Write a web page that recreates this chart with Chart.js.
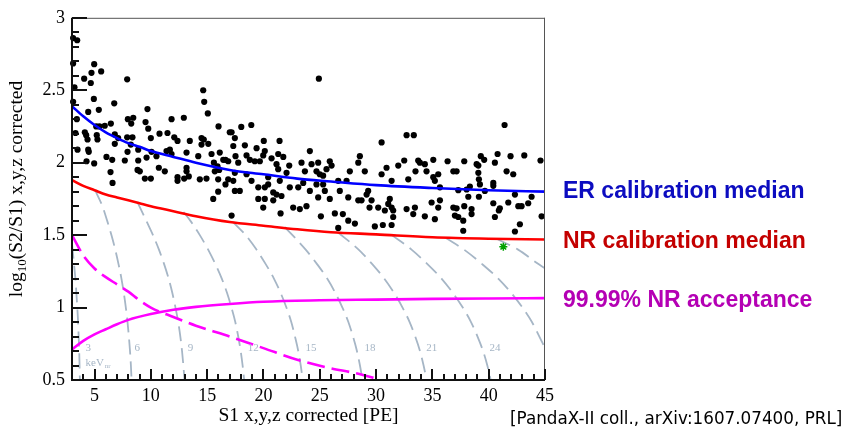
<!DOCTYPE html>
<html>
<head>
  <title>PandaX-II calibration band</title>
  <script src="https://cdn.jsdelivr.net/npm/chart.js"></script>
  <style>
    body { margin: 0; background: #fff; }
  </style>
</head>
<body>
  <canvas id="bandChart" width="845" height="429"></canvas>

  <script>
    // tick labels
    const xTicks = [5, 10, 15, 20, 25, 30, 35, 40, 45];
    const yTicks = [0.5, 1, 1.5, 2, 2.5, 3];

    // calibration events (S1 [PE], log10(S2/S1))
    const calS1 = [
      3.1, 3.46, 3.1, 4.97, 4.73, 5.59, 4.08, 4.67, 7.9, 3.22, 14.65, 3.1, 4.94, 6.75, 14.74, 9.7, 5.38, 15.06, 4.44, 7.96,
      8.44, 9.53, 8.26, 11.84, 12.93, 3.43, 6.45, 5.15, 5.44, 5.91, 16.01, 9.77, 3.31, 4.14, 4.26, 5.2, 6.8, 10.77, 11.48, 17.01,
      10.0, 12.08, 7.9, 8.37, 7.1, 14.5, 4.38, 5.26, 13.46, 12.37, 14.7,
      24.92, 18.03, 18.92, 17.17, 17.46, 20.03, 21.43, 30.49, 32.71, 33.35, 41.41,
      3.49, 4.44, 4.49, 4.29, 4.97, 6.06, 6.57, 6.8, 7.69, 7.93, 8.22, 8.88, 8.88, 9.62, 10.06, 8.82, 9.02, 6.42, 6.6, 9.47,
      10.5, 10.71, 11.24, 11.39, 11.69, 11.84, 12.37, 12.37, 12.96, 13.17, 13.17, 13.37, 13.17, 14.21, 14.35, 14.5, 14.94, 15.1, 15.39, 15.6,
      15.92, 15.68, 16.12, 16.43, 16.63, 16.87, 16.07, 15.98, 16.87, 16.63, 15.98, 15.54, 10.0,
      17.32, 18.35, 20.12, 19.39, 17.52, 17.76, 18.5, 18.79, 19.23, 19.68, 19.98, 20.72, 21.31, 21.76, 22.29, 21.16, 21.31, 22.05, 23.38, 23.68,
      24.12, 24.27, 24.71, 25.0, 25.3, 24.86, 25.89, 26.05, 25.6, 25.3, 25.45, 24.71, 24.86, 25.89, 26.64, 26.78, 27.38, 27.67, 27.53, 28.42,
      28.56, 29.0, 29.3, 28.42, 28.71, 29.6, 29.16, 30.19, 30.78, 31.22, 31.08, 30.49, 30.93, 18.5, 18.94, 19.54, 20.12, 20.42, 20.87, 21.16,
      21.6, 22.34, 20.12, 19.54, 19.98, 20.87, 22.64, 23.23, 23.82, 21.52, 25.1, 26.34, 27.53, 28.12, 26.64, 29.89, 17.46, 17.9, 17.17, 17.46,
      17.32, 21.45, 20.42, 23.09, 23.53, 24.12,
      31.97, 32.5, 32.86, 33.5, 33.74, 33.89, 34.33, 34.48, 35.08, 35.08, 35.22, 35.52, 35.67, 36.35, 36.86, 37.15, 37.83, 37.3, 38.04, 38.33,
      38.93, 39.08, 39.3, 39.6, 39.08, 39.13, 39.22, 40.79, 40.55, 40.41, 40.41, 39.66, 41.59, 42.18, 41.94, 43.16, 44.6, 42.33, 43.81, 31.38,
      31.38, 31.52, 31.52, 31.38, 32.71, 33.45, 33.3, 34.33, 34.93, 35.52, 35.67, 35.22, 36.86, 37.15, 37.0, 37.3, 37.83, 37.74, 37.74, 38.48,
      38.48, 38.19, 39.13, 40.41, 40.99, 40.9, 40.55, 41.74, 42.63, 42.92, 43.51, 44.7, 42.77, 42.33,
      27.05, 30.6, 29.42
    ];
    const calLog = [
      2.86, 2.845, 2.685, 2.68, 2.62, 2.63, 2.58, 2.55, 2.575, 2.52, 2.5, 2.42, 2.44, 2.41, 2.42, 2.37, 2.365, 2.34, 2.35, 2.3,
      2.31, 2.28, 2.27, 2.3, 2.31, 2.3, 2.27, 2.25, 2.25, 2.255, 2.25, 2.235, 2.205, 2.21, 2.19, 2.19, 2.195, 2.2, 2.205, 2.21,
      2.17, 2.175, 2.175, 2.175, 2.17, 2.17, 2.16, 2.16, 2.15, 2.15, 2.16,
      2.58, 2.247, 2.26, 2.21, 2.17, 2.15, 2.15, 2.14, 2.19, 2.19, 2.26,
      2.09, 2.09, 2.075, 2.01, 1.995, 2.04, 2.02, 2.13, 2.015, 2.075, 2.125, 2.09, 2.015, 2.035, 2.075, 1.95, 1.94, 1.935, 1.86, 1.89,
      2.045, 1.965, 1.94, 2.08, 2.09, 2.06, 1.9, 1.875, 1.89, 1.94, 1.965, 1.905, 2.07, 2.045, 1.885, 2.125, 1.89, 2.13, 2.06, 2.0,
      1.975, 1.94, 2.07, 2.02, 2.02, 2.01, 1.95, 1.885, 1.885, 1.85, 1.8, 1.75, 1.89,
      2.115, 2.12, 2.08, 2.1, 2.045, 2.0, 2.05, 2.02, 2.01, 2.01, 2.05, 2.03, 2.06, 2.04, 1.98, 1.99, 1.955, 1.93, 2.0, 1.94,
      2.08, 1.99, 1.94, 1.92, 1.91, 2.0, 2.01, 1.98, 1.955, 1.85, 1.805, 1.85, 1.76, 1.75, 1.875, 1.805, 1.875, 1.94, 1.76, 2.0,
      2.045, 1.94, 1.805, 1.74, 1.74, 1.74, 1.78, 1.69, 1.67, 1.75, 1.715, 1.92, 1.965, 1.92, 1.875, 1.83, 1.83, 1.85, 1.795, 1.78,
      1.77, 1.83, 1.75, 1.75, 1.69, 1.74, 1.69, 1.68, 1.7, 1.65, 1.63, 1.65, 1.6, 1.58, 1.55, 1.56, 1.805, 1.805, 1.635, 1.93,
      1.875, 1.875, 1.9, 1.83, 1.86, 1.805,
      1.98, 2.015, 1.885, 1.94, 2.015, 2.0, 1.99, 1.94, 2.02, 1.9, 1.875, 1.92, 1.83, 2.01, 1.94, 1.94, 2.01, 1.81, 1.815, 1.835,
      1.99, 1.98, 2.045, 2.02, 1.93, 1.885, 1.85, 2.06, 2.0, 1.86, 1.84, 1.805, 1.94, 1.92, 2.045, 2.05, 2.015, 1.78, 1.765, 1.875,
      1.69, 1.67, 1.625, 1.57, 1.68, 1.69, 1.645, 1.63, 1.725, 1.69, 1.74, 1.61, 1.69, 1.685, 1.635, 1.625, 1.7, 1.6, 1.53, 1.68,
      1.645, 1.765, 1.765, 1.72, 1.685, 1.67, 1.625, 1.725, 1.7, 1.7, 1.72, 1.63, 1.575, 1.525,
      1.645, 1.57, 1.69
    ];

    // ER / NR calibration medians
    const medS1 = [3, 4, 5, 6, 7, 8, 9, 10, 12, 14, 17, 20, 23, 26, 30, 35, 40, 45];
    const erMedian = [2.39, 2.32, 2.26, 2.21, 2.17, 2.135, 2.11, 2.08, 2.04, 2.0, 1.95, 1.92, 1.89, 1.87, 1.845, 1.825, 1.81, 1.80];
    const nrMedian = [1.88, 1.84, 1.81, 1.78, 1.76, 1.74, 1.72, 1.70, 1.665, 1.63, 1.59, 1.565, 1.54, 1.52, 1.505, 1.485, 1.475, 1.47];

    // 99.99% NR acceptance line
    const accS1 = [3, 4, 5, 6, 7, 8, 10, 12, 14, 17, 20, 25, 30, 35, 40, 45];
    const accLog = [0.71, 0.77, 0.815, 0.85, 0.885, 0.915, 0.955, 0.985, 1.005, 1.025, 1.04, 1.05, 1.055, 1.06, 1.063, 1.065];

    // S2 threshold cut (dashed magenta)
    const cutS1 = [3, 4, 5, 6, 7, 8, 9, 10, 12, 14, 17, 20, 23, 26, 28, 30];
    const cutLog = [1.5, 1.36, 1.27, 1.21, 1.16, 1.11, 1.05, 1.0, 0.935, 0.875, 0.8, 0.72, 0.64, 0.58, 0.55, 0.51];

    // equal-energy contours [keVnr, S1 values, log10(S2/S1) values]
    const kevContours = [
      [3, [3.0, 3.18, 3.30, 3.39, 3.47, 3.54, 3.59, 3.64, 3.67, 3.70], [1.44, 1.3, 1.2, 1.1, 1.0, 0.9, 0.8, 0.7, 0.6, 0.5]],
      [6, [5.05, 5.70, 6.12, 6.50, 6.84, 7.13, 7.39, 7.60, 7.78, 7.93, 8.05, 8.15, 8.23, 8.29], [1.81, 1.7, 1.6, 1.5, 1.4, 1.3, 1.2, 1.1, 1.0, 0.9, 0.8, 0.7, 0.6, 0.5]],
      [9, [8.8, 9.59, 10.19, 10.72, 11.18, 11.58, 11.91, 12.19, 12.43, 12.62, 12.77, 12.89, 12.99], [1.73, 1.6, 1.5, 1.4, 1.3, 1.2, 1.1, 1.0, 0.9, 0.8, 0.7, 0.6, 0.5]],
      [12, [12.9, 13.5, 14.35, 15.09, 15.73, 16.30, 16.77, 17.16, 17.50, 17.76, 17.98, 18.15, 18.29], [1.66, 1.6, 1.5, 1.4, 1.3, 1.2, 1.1, 1.0, 0.9, 0.8, 0.7, 0.6, 0.5]],
      [15, [17.3, 18.42, 19.38, 20.2, 20.93, 21.53, 22.04, 22.47, 22.8, 23.09, 23.31, 23.49], [1.59, 1.5, 1.4, 1.3, 1.2, 1.1, 1.0, 0.9, 0.8, 0.7, 0.6, 0.5]],
      [18, [21.9, 22.58, 23.75, 24.76, 25.66, 26.39, 27.01, 27.54, 27.95, 28.3, 28.57, 28.79], [1.555, 1.5, 1.4, 1.3, 1.2, 1.1, 1.0, 0.9, 0.8, 0.7, 0.6, 0.5]],
      [21, [26.6, 28.45, 29.66, 30.73, 31.61, 32.35, 32.98, 33.48, 33.9, 34.22, 34.49], [1.52, 1.4, 1.3, 1.2, 1.1, 1.0, 0.9, 0.8, 0.7, 0.6, 0.5]],
      [24, [31.4, 33.15, 34.56, 35.81, 36.83, 37.7, 38.43, 39.01, 39.5, 39.88, 40.18], [1.5, 1.4, 1.3, 1.2, 1.1, 1.0, 0.9, 0.8, 0.7, 0.6, 0.5]],
      [27, [36.2, 37.81, 39.42, 40.85, 42.01, 43.0, 43.84, 44.5, 45.0], [1.48, 1.4, 1.3, 1.2, 1.1, 1.0, 0.9, 0.8, 0.72]],
      [30, [40.7, 42.61, 44.42, 45.0], [1.475, 1.4, 1.3, 1.27]]
    ];
    const kevLabels = ['3', '6', '9', '12', '15', '18', '21', '24'];
    const kevLabelS1 = [4.2, 8.55, 13.28, 18.6, 23.74, 28.98, 34.45, 40.08];
    const kevLabelLog = 0.72;

    // the single green event below the NR median
    const starS1 = [41.3];
    const starLog = [1.42];

    const serif = '"Liberation Serif", "Times New Roman", serif';
    const sans = '"Liberation Sans", Arial, sans-serif';
    const grey = 'rgb(166,182,198)';

    const pts = (xs, ys) => xs.map((v, i) => ({ x: v, y: ys[i] }));

    const datasets = [];
    datasets.push({ data: pts(starS1, starLog), pointStyle: 'star', pointRadius: 4, borderColor: '#00a000', borderWidth: 1.5, order: 0 });
    datasets.push({ type: 'line', data: pts(medS1, erMedian), borderColor: '#0000ff', borderWidth: 2.6, pointRadius: 0, cubicInterpolationMode: 'monotone', order: 1 });
    datasets.push({ type: 'line', data: pts(medS1, nrMedian), borderColor: '#ff0000', borderWidth: 2.6, pointRadius: 0, cubicInterpolationMode: 'monotone', order: 2 });
    datasets.push({ type: 'line', data: pts(accS1, accLog), borderColor: '#ff00ff', borderWidth: 2.6, pointRadius: 0, cubicInterpolationMode: 'monotone', order: 3 });
    datasets.push({ type: 'line', data: pts(cutS1, cutLog), borderColor: '#ff00ff', borderWidth: 2.6, borderDash: [18, 7], pointRadius: 0, cubicInterpolationMode: 'monotone', order: 4 });
    datasets.push({ data: pts(calS1, calLog), backgroundColor: '#000', borderWidth: 0, pointRadius: 3.1, clip: 6, order: 5 });
    kevContours.forEach(c => {
      datasets.push({ type: 'line', data: pts(c[1], c[2]), borderColor: grey, borderWidth: 1.8, borderDash: [15, 7], pointRadius: 0, cubicInterpolationMode: 'monotone', order: 6 });
    });

    // ROOT-like frame, inner ticks, titles and side legend
    const rootFrame = {
      id: 'rootFrame',
      afterDraw(chart) {
        const { ctx, chartArea: a, scales } = chart;
        const xs = scales.x, ys = scales.y;
        ctx.save();

        // top and right frame
        ctx.fillStyle = '#555';
        ctx.fillRect(a.left, a.top, a.right - a.left, 1);
        ctx.fillRect(a.right - 1, a.top, 1, a.bottom - a.top);

        // left and bottom axes with inner ticks
        ctx.fillStyle = '#111';
        ctx.fillRect(a.left - 1, a.top, 2, a.bottom - a.top + 1);
        ctx.fillRect(a.left - 1, a.bottom - 1, a.right - a.left + 1, 2);
        for (let i = 5; i <= 30; i++) {
          const py = Math.round(ys.getPixelForValue(i / 10));
          const len = i % 5 === 0 ? 15 : 7;
          ctx.fillRect(a.left, py - 1, len, 2);
        }
        for (let v = 3; v <= 45; v++) {
          const px = Math.round(xs.getPixelForValue(v));
          const len = v % 5 === 0 ? 11 : 6;
          ctx.fillRect(px - 1, a.bottom - len, 2, len);
        }

        // keVnr labels
        ctx.fillStyle = grey;
        ctx.font = '11px ' + serif;
        ctx.textBaseline = 'middle';
        ctx.textAlign = 'left';
        kevLabels.forEach((t, i) => {
          ctx.fillText(t, xs.getPixelForValue(kevLabelS1[i]), ys.getPixelForValue(kevLabelLog));
        });
        const kx = xs.getPixelForValue(kevLabelS1[0]);
        const ky = ys.getPixelForValue(kevLabelLog) + 15;
        ctx.fillText('keV', kx, ky);
        const kw = ctx.measureText('keV').width;
        ctx.font = '7px ' + serif;
        ctx.fillText('nr', kx + kw + 1, ky + 3);

        // axis titles
        ctx.fillStyle = '#000';
        ctx.textBaseline = 'alphabetic';
        ctx.textAlign = 'center';
        ctx.font = '19.5px ' + serif;
        ctx.fillText('S1 x,y,z corrected [PE]', (a.left + a.right) / 2, 421);

        ctx.save();
        ctx.translate(22, 189);
        ctx.rotate(-Math.PI / 2);
        ctx.textAlign = 'left';
        const parts = [['log', '19.5px ', 0], ['10', '13px ', 4], ['(S2/S1) x,y,z corrected', '19.5px ', 0]];
        let total = 0;
        parts.forEach(p => { ctx.font = p[1] + serif; total += ctx.measureText(p[0]).width; });
        let xx = -total / 2;
        parts.forEach(p => {
          ctx.font = p[1] + serif;
          ctx.fillText(p[0], xx, p[2]);
          xx += ctx.measureText(p[0]).width;
        });
        ctx.restore();

        // side legend
        ctx.textAlign = 'left';
        ctx.font = 'bold 23px ' + sans;
        ctx.fillStyle = '#0c0cc0';
        ctx.fillText('ER calibration median', 563, 198);
        ctx.fillStyle = '#c40000';
        ctx.fillText('NR calibration median', 563, 248);
        ctx.fillStyle = '#b400b4';
        ctx.fillText('99.99% NR acceptance', 563, 307);

        ctx.fillStyle = '#000';
        ctx.font = '16.8px "DejaVu Sans", sans-serif';
        ctx.fillText('[PandaX-II coll., arXiv:1607.07400, PRL]', 510, 424);
        ctx.restore();
      }
    };

    const tickFont = { family: 'Liberation Serif', size: 18 };

    new Chart(document.getElementById('bandChart'), {
      type: 'scatter',
      data: { datasets: datasets },
      options: {
        responsive: false,
        animation: false,
        devicePixelRatio: 1,
        layout: { padding: { top: 14, right: 300, left: 0, bottom: 0 } },
        plugins: { legend: { display: false }, tooltip: { enabled: false } },
        scales: {
          x: {
            type: 'linear', min: 3, max: 45,
            grid: { display: false, drawTicks: false },
            border: { display: false },
            afterBuildTicks: s => { s.ticks = xTicks.map(v => ({ value: v })); },
            afterFit: s => { s.height = 49; },
            ticks: { padding: 5, color: '#000', font: tickFont, autoSkip: false, maxRotation: 0, callback: v => String(v) }
          },
          y: {
            type: 'linear', min: 0.5, max: 3,
            grid: { display: false, drawTicks: false },
            border: { display: false },
            afterBuildTicks: s => { s.ticks = yTicks.map(v => ({ value: v })); },
            afterFit: s => { s.width = 72; },
            ticks: { padding: 7, color: '#000', font: tickFont, autoSkip: false, callback: v => String(v) }
          }
        }
      },
      plugins: [rootFrame]
    });
  </script>
</body>
</html>
